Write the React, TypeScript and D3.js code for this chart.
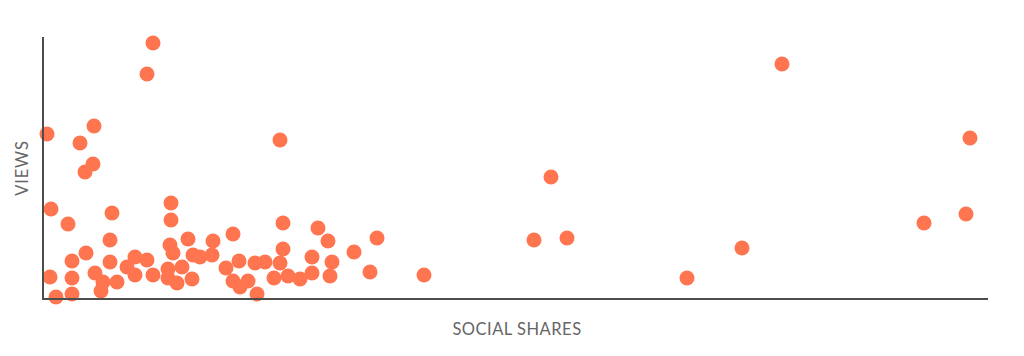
import React, { useEffect, useRef } from "react";
import * as d3 from "d3";

const WIDTH = 1024;
const HEIGHT = 356;

// Social shares per article
const shares: number[] = [
  1100, 1040, 40, 510, 370, 500, 420, 80, 250, 690,
  1280, 1280, 670, 430, 290, 670, 920, 1040, 1450, 1270,
  1300, 70, 290, 520, 600, 740, 840, 920, 1100, 1250,
  1390, 1250, 1340, 1490, 130, 290, 580, 1500, 1570, 1690,
  1700, 1900, 1830, 1960, 2120, 2220, 1900, 1970, 2050, 2140,
  2310, 2400, 2400, 2370, 2450, 2570, 2750, 2850, 2690, 2890,
  2690, 2870, 3110, 3340, 3270, 2370, 3810, 4910, 5240, 5080,
  6440, 6990, 7390, 8810, 9230, 9270,
];

// Views per article
const views: number[] = [
  25600, 22500, 16500, 17300, 15600, 13500, 12700, 9000, 7500, 8600,
  9600, 7900, 5900, 4600, 3800, 3700, 4200, 3900, 6000, 5400,
  4600, 2200, 2100, 2600, 1700, 1700, 3200, 2400, 2400, 3000,
  3200, 2100, 1600, 2000, 200, 500, 800, 4400, 4200, 4400,
  5800, 6500, 3100, 3800, 3600, 3700, 1800, 1200, 1800, 500,
  2100, 7600, 5000, 3600, 2300, 2000, 7100, 5800, 4200, 3700,
  2600, 2300, 4700, 6100, 2700, 15900, 2400, 5900, 6100, 12200,
  2100, 5100, 23500, 7600, 8500, 16100,
];

const xLabel = "SOCIAL SHARES";
const yLabel = "VIEWS";

export default function App() {
  const ref = useRef<SVGSVGElement | null>(null);

  useEffect(() => {
    const svg = d3.select(ref.current);
    svg.selectAll("*").remove();

    const x = d3.scaleLinear().domain([0, 9450]).range([43, 988]);
    const y = d3.scaleLinear().domain([0, 26200]).range([299, 37]);

    const data = shares.map((s, i) => ({ s, v: views[i] }));

    svg
      .append("g")
      .selectAll("circle")
      .data(data)
      .join("circle")
      .attr("cx", (d) => x(d.s))
      .attr("cy", (d) => y(d.v))
      .attr("r", 7.5)
      .attr("fill", "#ff7550");

    // axes
    svg
      .append("line")
      .attr("x1", x(0))
      .attr("x2", x(0))
      .attr("y1", y(26200))
      .attr("y2", y(0) + 1)
      .attr("stroke", "#4d4d4d")
      .attr("stroke-width", 2);
    svg
      .append("line")
      .attr("x1", x(0) - 1)
      .attr("x2", x(9450))
      .attr("y1", y(0))
      .attr("y2", y(0))
      .attr("stroke", "#4d4d4d")
      .attr("stroke-width", 2);

    svg
      .append("text")
      .attr("x", 517)
      .attr("y", 335)
      .attr("text-anchor", "middle")
      .attr("font-family", "Lato, sans-serif")
      .attr("font-size", 16.5)
      .attr("letter-spacing", 0.5)
      .attr("fill", "#666")
      .text(xLabel);

    svg
      .append("text")
      .attr("transform", `translate(28,168) rotate(-90)`)
      .attr("text-anchor", "middle")
      .attr("font-family", "Lato, sans-serif")
      .attr("font-size", 16.5)
      .attr("letter-spacing", 0.8)
      .attr("fill", "#666")
      .text(yLabel);
  }, []);

  return (
    <svg
      ref={ref}
      width={WIDTH}
      height={HEIGHT}
      style={{ position: "absolute", left: 0, top: 0, background: "#fff" }}
    />
  );
}
